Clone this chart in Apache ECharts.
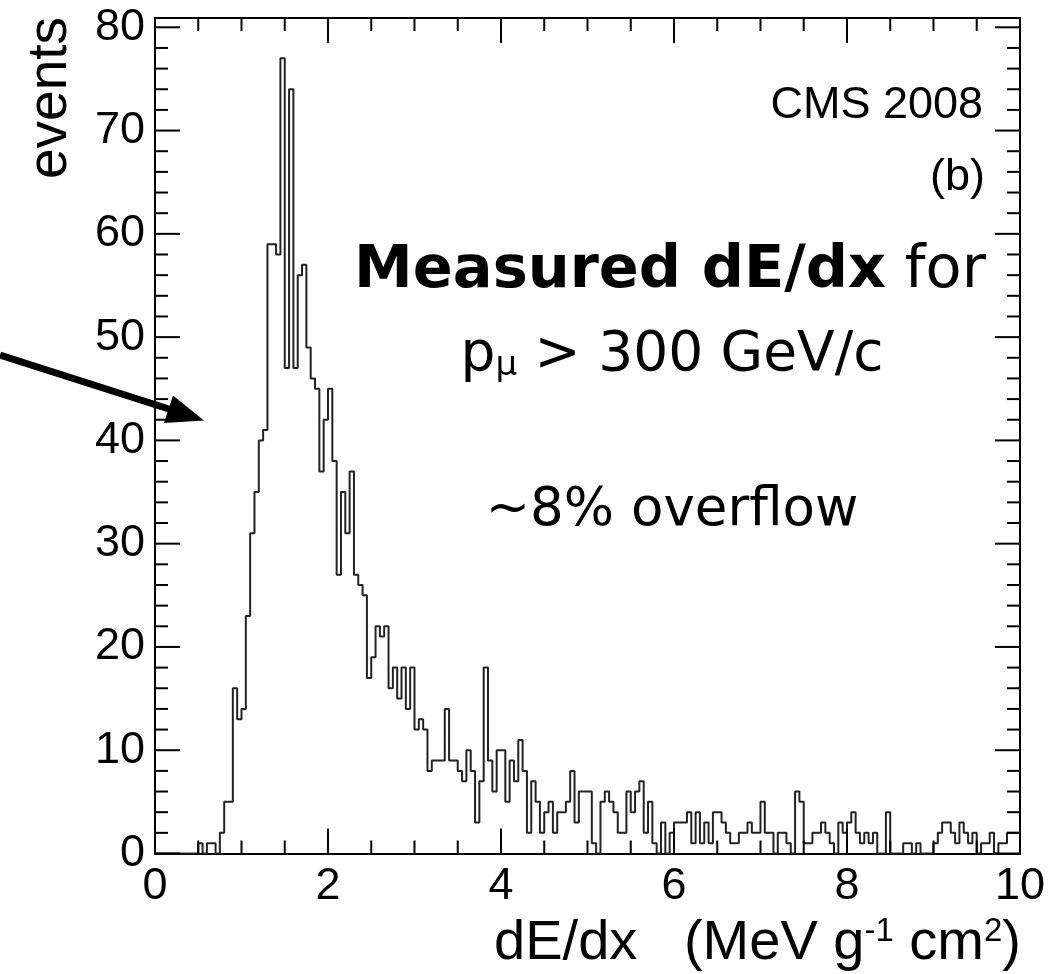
<!DOCTYPE html>
<html>
<head>
<meta charset="utf-8">
<script src="https://cdn.jsdelivr.net/npm/echarts@6/dist/echarts.min.js"></script>
<style>
html,body{margin:0;padding:0;background:#fff;}
#wrap{position:relative;width:1048px;height:974px;}
#chart,#notes{position:absolute;left:0;top:0;width:1048px;height:974px;}
#notes{pointer-events:none;}
</style>
</head>
<body>
<div id="wrap"><div id="chart"></div><div id="notes"></div></div>
<script>
// ---- data ----
const binStart = 0;
const binWidth = 0.05;            // 200 bins over 0..10
const counts = [
  0,0,0,0,0,0,0,0,0,0,
  1,0,1,1,0,2,5,5,16,13,
  14,23,31,35,40,41,59,59,58,77,
  47,74,47,56,57,49,46,45,37,42,
  45,38,27,35,31,37,27,26,25,17,
  19,22,21,22,16,18,15,18,14,18,
  12,13,12,8,9,9,9,14,9,9,
  8,7,10,8,3,7,18,9,6,10,
  10,5,9,7,11,8,2,7,5,2,
  4,5,2,4,4,5,8,3,6,6,
  6,1,0,5,6,5,4,2,2,6,
  4,6,7,2,5,1,0,3,0,2,
  3,3,3,4,1,4,1,3,1,4,
  4,3,2,1,1,2,2,3,2,2,
  5,2,2,0,2,2,1,0,6,5,
  1,1,2,2,3,2,1,0,3,2,
  3,4,2,1,2,1,2,0,0,4,
  0,0,0,1,1,0,1,0,0,0,
  1,2,3,3,2,1,3,2,1,2,
  0,1,1,2,0,1,1,2,2,2
];
const xRange = [0, 10];
const yRange = [0, 80.9];
const xMajor = 2, xMinorStep = 0.5;
const yMajor = 10, yMinorStep = 2;
const xMajorTicks = [0, 2, 4, 6, 8, 10];
const yMajorTicks = [0, 10, 20, 30, 40, 50, 60, 70, 80];

const yTitle = 'events';
const xTitleParts = ['dE/dx   (MeV g', '-1', ' cm', '2', ')'];
const labelCMS = 'CMS 2008';
const labelPanel = '(b)';
const labelMeasBold = 'Measured dE/dx';
const labelMeasReg = ' for';
const labelP = 'p', labelMu = 'μ', labelCut = ' > 300 GeV/c';
const labelOverflow = '~8% overflow';

// histogram outline points at bin low edges (step drawn by the library)
const histData = counts.map((c, i) => [binStart + i * binWidth, c]);
histData.push([binStart + counts.length * binWidth, counts[counts.length - 1]]);

// minor tick positions between the major ones
function minorTicks(lo, hi, step, major) {
  const out = [];
  const n = Math.round((hi - lo) / step);
  for (let k = 0; k <= n; k++) {
    const v = +(lo + k * step).toFixed(6);
    if (Math.abs(v / major - Math.round(v / major)) > 1e-6) out.push(v);
  }
  return out;
}
const xMinorTicks = minorTicks(xRange[0], xRange[1], xMinorStep, xMajor);
const yMinorTicks = minorTicks(0, 80, yMinorStep, yMajor);

const BLACK = '#000';
const tickFont = 'Liberation Sans';
const MAJOR_LEN = 25, MINOR_LEN = 13;

function xAxisDef(pos, showLabel) {
  return {
    type: 'value', position: pos, min: xRange[0], max: xRange[1], interval: xMajor,
    axisLine: {show: true, onZero: false, lineStyle: {color: BLACK, width: 2}},
    axisTick: {show: false}, minorTick: {show: false},
    splitLine: {show: false}, minorSplitLine: {show: false},
    axisLabel: {show: showLabel, fontFamily: tickFont, fontSize: 45, color: BLACK, margin: 11}
  };
}
function yAxisDef(pos, showLabel) {
  return {
    type: 'value', position: pos, min: yRange[0], max: yRange[1], interval: yMajor,
    axisLine: {show: true, onZero: false, lineStyle: {color: BLACK, width: 2}},
    axisTick: {show: false}, minorTick: {show: false},
    splitLine: {show: false}, minorSplitLine: {show: false},
    axisLabel: {
      show: showLabel, fontFamily: tickFont, fontSize: 45, color: BLACK, margin: 10,
      formatter: v => (Math.abs(v / yMajor - Math.round(v / yMajor)) < 1e-6 ? String(v) : '')
    }
  };
}

// inward tick marks on all four sides, placed through the axes' own scales
function xTickSeries(ticks, len) {
  return {
    type: 'custom', coordinateSystem: 'cartesian2d', silent: true, clip: false, z: 5,
    data: ticks.map(v => [v, yRange[0]]),
    renderItem: (params, api) => {
      const v = api.value(0);
      const pb = api.coord([v, yRange[0]]);
      const pt = api.coord([v, yRange[1]]);
      const st = {stroke: BLACK, lineWidth: 2};
      return {type: 'group', children: [
        {type: 'line', shape: {x1: pb[0], y1: pb[1], x2: pb[0], y2: pb[1] - len}, style: st},
        {type: 'line', shape: {x1: pt[0], y1: pt[1], x2: pt[0], y2: pt[1] + len}, style: st}
      ]};
    }
  };
}
function yTickSeries(ticks, len) {
  return {
    type: 'custom', coordinateSystem: 'cartesian2d', silent: true, clip: false, z: 5,
    data: ticks.map(v => [xRange[0], v]),
    renderItem: (params, api) => {
      const v = api.value(1);
      const pl = api.coord([xRange[0], v]);
      const pr = api.coord([xRange[1], v]);
      const st = {stroke: BLACK, lineWidth: 2};
      return {type: 'group', children: [
        {type: 'line', shape: {x1: pl[0], y1: pl[1], x2: pl[0] + len, y2: pl[1]}, style: st},
        {type: 'line', shape: {x1: pr[0], y1: pr[1], x2: pr[0] - len, y2: pr[1]}, style: st}
      ]};
    }
  };
}

// main chart: frame, labels, ticks and the histogram
const chart = echarts.init(document.getElementById('chart'));
chart.setOption({
  animation: false,
  grid: {left: 155, right: 27, top: 18, bottom: 120.5},
  xAxis: [xAxisDef('bottom', true), xAxisDef('top', false)],
  yAxis: [yAxisDef('left', true), yAxisDef('right', false)],
  series: [
    {
      type: 'line', step: 'end', data: histData,
      symbol: 'none', silent: true,
      lineStyle: {color: '#222', width: 2}
    },
    xTickSeries(xMajorTicks, MAJOR_LEN),
    xTickSeries(xMinorTicks, MINOR_LEN),
    yTickSeries(yMajorTicks, MAJOR_LEN),
    yTickSeries(yMinorTicks, MINOR_LEN)
  ]
});

// overlay instance: titles, annotations and the arrow
const notes = echarts.init(document.getElementById('notes'));
notes.setOption({
  animation: false,
  graphic: [
    {type: 'text', x: 51, y: 17, rotation: Math.PI / 2,
     style: {text: yTitle, font: '55px "Liberation Sans"', fill: BLACK, textAlign: 'right', textVerticalAlign: 'middle'}},
    {type: 'text', x: 1021, y: 943.5,
     style: {
       text: '{a|' + xTitleParts[0] + '}{s|' + xTitleParts[1] + '}{a|' + xTitleParts[2] + '}{s|' + xTitleParts[3] + '}{a|' + xTitleParts[4] + '}',
       textAlign: 'right', textVerticalAlign: 'middle',
       rich: {
         a: {fontFamily: 'Liberation Sans', fontSize: 56, fill: BLACK},
         s: {fontFamily: 'Liberation Sans', fontSize: 33, fill: BLACK, verticalAlign: 'top'}
       }
     }},
    {type: 'text', x: 983, y: 106,
     style: {text: labelCMS, font: '45px "Liberation Sans"', fill: BLACK, textAlign: 'right', textVerticalAlign: 'middle'}},
    {type: 'text', x: 985, y: 178,
     style: {text: labelPanel, font: '45px "Liberation Sans"', fill: BLACK, textAlign: 'right', textVerticalAlign: 'middle'}},
    {type: 'text', x: 670, y: 272,
     style: {
       text: '{b|' + labelMeasBold + '}{r|' + labelMeasReg + '}',
       textAlign: 'center', textVerticalAlign: 'middle',
       rich: {
         b: {fontFamily: 'DejaVu Sans', fontWeight: 'bold', fontSize: 59, fill: BLACK},
         r: {fontFamily: 'DejaVu Sans', fontWeight: 'normal', fontSize: 59, fill: BLACK}
       }
     }},
    {type: 'text', x: 672, y: 356,
     style: {
       text: '{p|' + labelP + '}{m|' + labelMu + '}{p|' + labelCut + '}',
       textAlign: 'center', textVerticalAlign: 'middle',
       rich: {
         p: {fontFamily: 'DejaVu Sans', fontSize: 55, fill: BLACK},
         m: {fontFamily: 'DejaVu Sans', fontSize: 34, fill: BLACK, verticalAlign: 'bottom'}
       }
     }},
    {type: 'text', x: 672, y: 511,
     style: {text: labelOverflow, font: '53px "DejaVu Sans"', fill: BLACK, textAlign: 'center', textVerticalAlign: 'middle'}},
    {type: 'line', shape: {x1: 0, y1: 355, x2: 172, y2: 410},
     style: {stroke: BLACK, lineWidth: 7}},
    {type: 'polygon', shape: {points: [[204, 420.5], [173, 395.5], [164, 423]]},
     style: {fill: BLACK}}
  ]
});
</script>
</body>
</html>
